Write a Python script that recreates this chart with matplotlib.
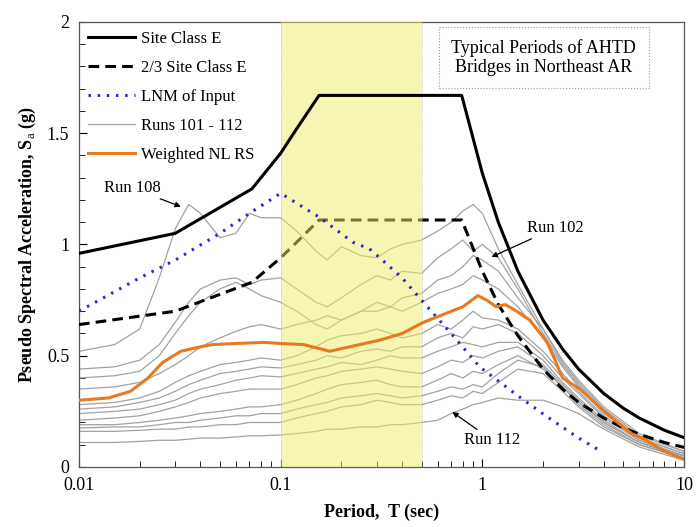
import matplotlib
matplotlib.use("Agg")
import matplotlib.pyplot as plt
from matplotlib.ticker import FixedLocator, MultipleLocator, LogLocator, NullFormatter

plt.rcParams['font.family'] = ['Liberation Serif', 'DejaVu Serif']
plt.rcParams['mathtext.fontset'] = 'custom'
plt.rcParams['mathtext.rm'] = 'Liberation Serif'
plt.rcParams['mathtext.bf'] = 'Liberation Serif:bold'

# design spectrum, site class E
T_site = [0.01, 0.03, 0.072, 0.1, 0.12, 0.155, 0.79, 1.0, 1.2, 1.5, 2.0, 2.5, 3.0, 4.0, 5.0, 6.0, 8.0, 10.0]
Sa_site = [0.96, 1.05, 1.25, 1.41, 1.52, 1.67, 1.67, 1.32, 1.10, 0.88, 0.66, 0.53, 0.44, 0.33, 0.264, 0.22, 0.165, 0.132]
Sa_two_thirds = [0.64, 0.70, 0.83, 0.94, 1.01, 1.11, 1.11, 0.88, 0.73, 0.59, 0.44, 0.35, 0.29, 0.22, 0.176, 0.147, 0.11, 0.088]

# LNM of input motion
T_lnm = [0.01, 0.02, 0.03, 0.05, 0.07, 0.1, 0.157, 0.228, 0.276, 0.31, 0.4, 0.51, 0.7, 0.97, 1.5, 2.1, 3.0, 3.8]
Sa_lnm = [0.70, 0.85, 0.93, 1.05, 1.14, 1.23, 1.12, 1.01, 0.98, 0.94, 0.85, 0.74, 0.60, 0.45, 0.32, 0.225, 0.13, 0.075]

# weighted nonlinear response spectrum
T_wnl = [0.01, 0.014, 0.018, 0.022, 0.026, 0.032, 0.04, 0.046, 0.06, 0.082, 0.1, 0.13, 0.175, 0.22, 0.31, 0.4, 0.51,
         0.66, 0.8, 0.95, 1.05, 1.17, 1.3, 1.48, 1.72, 2.1, 2.5, 3.05, 3.6, 4.4, 5.5, 6.5, 8.0, 10.0]
Sa_wnl = [0.30, 0.31, 0.34, 0.40, 0.47, 0.52, 0.54, 0.55, 0.555, 0.56, 0.555, 0.55, 0.52, 0.54, 0.57, 0.60, 0.65,
          0.69, 0.72, 0.77, 0.75, 0.72, 0.73, 0.70, 0.66, 0.56, 0.40, 0.35, 0.29, 0.22, 0.15, 0.12, 0.07, 0.035]

# individual runs 101 - 112
T_runs = [0.01, 0.015, 0.02, 0.025, 0.03, 0.035, 0.04, 0.05, 0.06, 0.07, 0.08, 0.1, 0.12, 0.15, 0.17, 0.2, 0.25,
          0.3, 0.35, 0.4, 0.5, 0.6, 0.7, 0.8, 0.9, 1.0, 1.2, 1.5, 2.0, 2.5, 3.0, 4.0, 6.0, 10.0]
run_108 = [0.52, 0.55, 0.62, 0.85, 1.07, 1.18, 1.14, 1.03, 1.05, 1.14, 1.12, 1.12, 1.06, 0.97, 0.93, 0.99, 0.95,
           0.94, 0.98, 1.00, 1.02, 1.06, 1.10, 1.15, 1.18, 1.14, 0.98, 0.82, 0.62, 0.47, 0.38, 0.26, 0.14, 0.07]
run_102 = [0.44, 0.45, 0.48, 0.55, 0.65, 0.74, 0.80, 0.84, 0.85, 0.82, 0.84, 0.85, 0.80, 0.74, 0.72, 0.76, 0.82,
           0.86, 0.84, 0.88, 0.87, 0.94, 0.98, 1.02, 0.97, 1.00, 0.94, 0.80, 0.60, 0.46, 0.37, 0.25, 0.13, 0.06]
run_c = [0.40, 0.41, 0.43, 0.50, 0.60, 0.68, 0.74, 0.80, 0.83, 0.80, 0.77, 0.74, 0.70, 0.64, 0.62, 0.66, 0.70,
         0.74, 0.72, 0.76, 0.78, 0.84, 0.86, 0.90, 0.95, 0.93, 0.88, 0.76, 0.62, 0.48, 0.39, 0.27, 0.15, 0.07]
run_d = [0.35, 0.36, 0.38, 0.42, 0.46, 0.50, 0.54, 0.58, 0.61, 0.63, 0.64, 0.62, 0.64, 0.66, 0.68, 0.66, 0.70,
         0.70, 0.72, 0.70, 0.74, 0.78, 0.80, 0.82, 0.86, 0.84, 0.80, 0.72, 0.58, 0.45, 0.36, 0.24, 0.13, 0.06]
run_e = [0.28, 0.29, 0.31, 0.34, 0.38, 0.41, 0.43, 0.46, 0.47, 0.48, 0.49, 0.48, 0.50, 0.54, 0.57, 0.59, 0.60,
         0.62, 0.60, 0.58, 0.60, 0.64, 0.62, 0.66, 0.70, 0.67, 0.66, 0.62, 0.52, 0.42, 0.34, 0.23, 0.12, 0.05]
run_f = [0.26, 0.27, 0.29, 0.31, 0.34, 0.37, 0.39, 0.42, 0.43, 0.44, 0.45, 0.445, 0.46, 0.48, 0.50, 0.49, 0.52,
         0.53, 0.52, 0.54, 0.54, 0.58, 0.60, 0.58, 0.63, 0.62, 0.64, 0.60, 0.50, 0.40, 0.33, 0.22, 0.12, 0.05]
run_g = [0.24, 0.25, 0.26, 0.28, 0.30, 0.33, 0.35, 0.37, 0.39, 0.40, 0.41, 0.405, 0.42, 0.44, 0.45, 0.47, 0.46,
         0.48, 0.50, 0.49, 0.49, 0.52, 0.54, 0.56, 0.55, 0.54, 0.56, 0.56, 0.48, 0.38, 0.31, 0.21, 0.11, 0.05]
run_h = [0.21, 0.22, 0.23, 0.25, 0.27, 0.29, 0.31, 0.33, 0.34, 0.35, 0.35, 0.35, 0.37, 0.40, 0.41, 0.43, 0.44,
         0.45, 0.44, 0.43, 0.42, 0.45, 0.48, 0.47, 0.50, 0.49, 0.52, 0.54, 0.46, 0.37, 0.30, 0.20, 0.11, 0.04]
run_i = [0.19, 0.19, 0.20, 0.21, 0.22, 0.23, 0.24, 0.25, 0.26, 0.27, 0.27, 0.28, 0.30, 0.33, 0.35, 0.37, 0.38,
         0.39, 0.37, 0.36, 0.36, 0.39, 0.42, 0.40, 0.43, 0.42, 0.46, 0.50, 0.44, 0.36, 0.28, 0.19, 0.10, 0.04]
run_j = [0.175, 0.18, 0.18, 0.19, 0.20, 0.20, 0.21, 0.22, 0.23, 0.23, 0.24, 0.24, 0.26, 0.28, 0.29, 0.31, 0.32,
         0.33, 0.32, 0.31, 0.32, 0.34, 0.36, 0.35, 0.37, 0.36, 0.42, 0.48, 0.45, 0.36, 0.29, 0.20, 0.11, 0.05]
run_k = [0.16, 0.16, 0.165, 0.17, 0.17, 0.18, 0.18, 0.19, 0.19, 0.20, 0.20, 0.20, 0.22, 0.24, 0.25, 0.27, 0.28,
         0.30, 0.29, 0.28, 0.28, 0.30, 0.32, 0.31, 0.34, 0.33, 0.38, 0.44, 0.42, 0.34, 0.27, 0.18, 0.10, 0.04]
run_112 = [0.11, 0.11, 0.115, 0.12, 0.12, 0.125, 0.13, 0.13, 0.135, 0.14, 0.14, 0.144, 0.15, 0.16, 0.17, 0.17, 0.18,
           0.18, 0.19, 0.19, 0.20, 0.21, 0.24, 0.26, 0.28, 0.29, 0.31, 0.30, 0.30, 0.27, 0.24, 0.17, 0.09, 0.03]
runs = [run_108, run_102, run_c, run_d, run_e, run_f, run_g, run_h, run_i, run_j, run_k, run_112]

band = (0.1, 0.5)
x_ticks = [0.01, 0.1, 1, 10]
x_ticklabels = ['0.01', '0.1', '1', '10']
y_ticks = [0, 0.5, 1, 1.5, 2]
y_ticklabels = ['0', '0.5', '1', '1.5', '2']

fig = plt.figure(figsize=(6.96, 5.27), dpi=100)
ax = fig.add_axes([0.1135, 0.1139, 0.8693, 0.8444])

for i, r in enumerate(runs):
    ax.plot(T_runs, r, color='#a2a2a2', lw=0.9, zorder=2,
            label='Runs 101 - 112' if i == 0 else None)
ax.plot(T_site, Sa_two_thirds, color='black', lw=2.2, ls=(0, (3.5, 2)), zorder=3, label='2/3 Site Class E')

ax.axvspan(*band, facecolor='#eeee66', alpha=0.5, edgecolor='none', zorder=4)
for b in band:
    ax.axvline(b, color='#b0b0b0', lw=0.6, ls=':', zorder=4)

ax.plot(T_site, Sa_site, color='black', lw=2.2, zorder=5, label='Site Class E')
ax.plot(T_lnm, Sa_lnm, color='#2b2bc8', lw=2.2, ls=(0, (0.8, 2.2)), zorder=5, label='LNM of Input')
ax.plot(T_wnl, Sa_wnl, color='#e8791f', lw=2.2, zorder=6, label='Weighted NL RS')

ax.set_xscale('log')
ax.set_xlim(0.01, 10)
ax.set_ylim(0, 2)
ax.xaxis.set_major_locator(FixedLocator(x_ticks))
ax.set_xticklabels(x_ticklabels)
ax.xaxis.set_minor_locator(LogLocator(base=10, subs=range(2, 10)))
ax.xaxis.set_minor_formatter(NullFormatter())
ax.yaxis.set_major_locator(FixedLocator(y_ticks))
ax.set_yticklabels(y_ticklabels)
ax.yaxis.set_minor_locator(MultipleLocator(0.1))
ax.tick_params(which='both', direction='in', labelsize=13, top=False, right=False)
ax.tick_params(which='major', length=6, pad=7)
ax.tick_params(which='minor', length=4)
for s in ax.spines.values():
    s.set_color('#555555')
    s.set_linewidth(0.9)

ax.set_xlabel('Period,  T (sec)', fontsize=13, fontweight='bold', labelpad=7)
ax.set_ylabel(r'Pseudo Spectral Acceleration, S$_\mathrm{a}$ (g)', fontsize=13, fontweight='bold', labelpad=6)

handles, labels = ax.get_legend_handles_labels()
order = ['Site Class E', '2/3 Site Class E', 'LNM of Input', 'Runs 101 - 112', 'Weighted NL RS']
hl = dict(zip(labels, handles))
leg = ax.legend([hl[k] for k in order], order, loc='upper left', fontsize=12, frameon=False,
                handlelength=2.8, labelspacing=0.78, borderaxespad=0.1, borderpad=0.45, handletextpad=0.4)
leg.set_zorder(10)

ax.text(2.02, 1.84, 'Typical Periods of AHTD\nBridges in Northeast AR', ha='center', va='center',
        fontsize=13, linespacing=1.1, zorder=8,
        bbox=dict(boxstyle='square,pad=0.7', facecolor='white', edgecolor='#999999', ls=':', lw=0.8))

arrow = dict(arrowstyle='-|>', color='black', lw=0.9, mutation_scale=8, shrinkA=0, shrinkB=0)
ax.annotate('Run 108', xy=(0.032, 1.17), xytext=(0.0183, 1.254), ha='center', va='center', fontsize=12,
            arrowprops=arrow, zorder=8)
ax.annotate('Run 102', xy=(1.11, 0.944), xytext=(2.3, 1.074), ha='center', va='center', fontsize=12,
            arrowprops=arrow, zorder=8)
ax.annotate('Run 112', xy=(0.71, 0.247), xytext=(1.12, 0.12), ha='center', va='center', fontsize=12,
            arrowprops=arrow, zorder=8)

fig.savefig('out.png', dpi=100)
